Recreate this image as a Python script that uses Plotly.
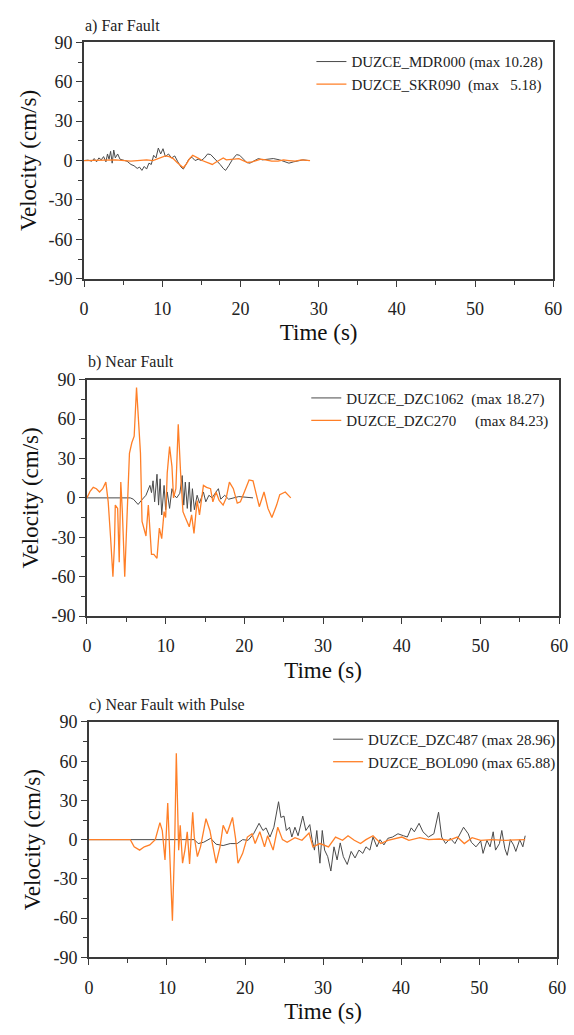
import plotly.graph_objects as go

# ---------------- data ----------------
# Panel a) Far Fault
t_mdr000 = [0, 0.5, 1.0, 1.3, 1.6, 1.9, 2.2, 2.5, 2.8, 3.0,
            3.2, 3.4, 3.6, 3.8, 4.0, 4.3, 4.6, 5.0, 5.5, 6.0,
            6.4, 6.8, 7.1, 7.4, 7.7, 8.0, 8.3, 8.6, 8.9, 9.2,
            9.5, 9.8, 10.1, 10.4, 10.8, 11.2, 11.6, 12.0, 12.4, 12.7,
            13.0, 13.4, 13.8, 14.2, 14.6, 15.0, 15.4, 15.8, 16.2, 16.6,
            17.0, 17.4, 17.8, 18.1, 18.5, 19.0, 19.5, 19.9, 20.4, 20.8,
            21.2, 21.7, 22.3, 22.8, 23.5, 24.2, 25.0, 25.6, 26.2, 26.8,
            27.4, 28.0, 28.7]
v_mdr000 = [0, 0.3, -0.5, 1.5, -1, 2, 0.5, 3, -1, 5,
            1, 7, -2, 8, 2, 5, 1, 0.5, -0.5, -3,
            -4, -6, -5, -7.5, -4.5, -6.5, -2, -3, 4, 2,
            9.5, 5, 9, 3, 5, 2, 3.5, -1, -5, -6.5,
            -3, 1, 2.5, 0, 1, 0, 2, 5, 4.5, 2,
            0, -3, -6, -7.5, -4, 1, 4.5, 4, 1, -1.5,
            -2, -0.5, 1.5, 0.5, 1, 1.5, 0.5, -1, -2, -1,
            0, 0.5, 0]
t_skr090 = [0, 2, 4, 6, 7, 8, 8.8, 9.3, 9.8, 10.4,
            10.9, 11.4, 11.9, 12.4, 12.7, 13.1, 13.5, 13.9, 14.3, 14.7,
            15.1, 15.5, 16.0, 16.4, 16.8, 17.3, 17.8, 18.2, 18.7, 19.2,
            19.8, 20.3, 20.9, 21.5, 22.0, 22.6, 23.2, 24.0, 24.8, 25.5,
            26.2, 27.0, 27.8, 28.9]
v_skr090 = [0, 0, 0.5, -0.5, 0, 0.5, 0, 1, 2, 3.5,
            3, 1.5, -1.5, -4, -5.5, -2.5, 1.5, 4, 3, 1.5,
            0, -1, -2, -3, -1.5, 0.5, 2, 0.5, 0.5, 1,
            1.5, 0, -1.5, -1, 0, 1, 0.5, -0.5, -0.5, 0.5,
            0, -0.5, 0.5, 0]

# Panel b) Near Fault
t_dzc1062 = [0, 5.5, 5.9, 6.5, 6.9, 7.5, 8.0, 8.2, 8.4, 8.6,
             8.9, 9.1, 9.3, 9.5, 9.8, 10.0, 10.2, 10.5, 10.8, 11.1,
             11.4, 11.8, 12.1, 12.3, 12.5, 12.75, 13.0, 13.2, 13.4, 13.65,
             14.0, 14.3, 14.8, 15.1, 15.5, 15.9, 16.4, 16.7, 17.0, 17.5,
             18.0, 18.7, 19.3, 21.1]
v_dzc1062 = [0, 0, -1, -5, -2, 2, 9.5, 4, 13, -3,
             18, -5.5, 14.5, -13, 9.5, -9, 4.5, -8, 7, 2,
             0, 3.5, 17, -5.5, 12, -8, 12, -10.5, 7, -9,
             2, -4, 4.5, -3, 2, 0, 4.5, 7, -1, 2,
             -1, 0, 1, 0]
t_dzc270 = [0, 0.4, 0.8, 1.2, 1.6, 2.0, 2.4, 2.7, 3.0, 3.3,
            3.5, 3.6, 3.9, 4.1, 4.3, 4.5, 4.8, 5.1, 5.4, 5.7,
            6.0, 6.3, 6.6, 6.8, 7.0, 7.5, 7.8, 8.2, 8.5, 8.9,
            9.2, 9.5, 9.8, 10.0, 10.2, 10.5, 10.8, 11.0, 11.3, 11.6,
            11.9, 12.2, 12.5, 13.0, 13.3, 13.6, 14.0, 14.3, 14.8, 15.2,
            15.7, 16.0, 16.4, 16.8, 17.3, 17.7, 18.1, 18.6, 19.1, 19.5,
            20.0, 20.6, 21.1, 21.6, 21.9, 22.5, 23.0, 23.5, 24.1, 24.5,
            25.2, 25.9]
v_dzc270 = [0, 5, 8, 7, 4.5, 7, 12, -3, -30, -60,
            -35, -5.5, -8, -49, 12, -10.5, -60, -10.5, 34, 42,
            47, 84, 49, 34, -18, -29, -5.5, -43, -43, -46,
            -23, -31, -10.5, -15, 19, 39, 24, 0, 7, 56,
            19, -10.5, -15, -22, -13, -27, -2, -13, 9.5, 8,
            7, -3, 4.5, -2, -5.5, 0, 12, 7, -4, -3,
            4.5, 13.7, 13, 2, -6.7, 4.5, -8, -15, -5.5, 2.5,
            4.5, 0]

# Panel c) Near Fault with Pulse
t_dzc487 = [0, 13.5, 14.0, 14.7, 15.6, 16.3, 17.2, 18.1, 19.0, 19.7,
            20.4, 21.1, 21.8, 22.3, 22.7, 23.2, 23.7, 24.3, 24.6, 25.0,
            25.3, 25.7, 26.0, 26.4, 26.8, 27.4, 27.8, 28.3, 28.6, 28.9,
            29.2, 29.6, 29.9, 30.2, 30.6, 31.0, 31.4, 31.8, 32.2, 32.6,
            33.1, 33.6, 34.1, 34.6, 35.1, 35.5, 36.0, 36.4, 36.9, 37.3,
            37.8, 38.3, 38.9, 39.6, 40.3, 40.8, 41.3, 41.7, 42.3, 42.8,
            43.5, 44.2, 44.8, 45.2, 45.7, 46.3, 46.9, 47.4, 48.0, 48.6,
            49.0, 49.6, 50.2, 50.5, 51.0, 51.4, 51.8, 52.1, 52.6, 52.9,
            53.3, 53.6, 54.0, 54.4, 54.7, 55.2, 55.6, 55.9]
v_dzc487 = [0, 0, -3, -2, 1, -3.5, -4.5, -3, -3, 0,
            -0.5, 4.5, 12.5, 7, 9, 2, 9.5, 29, 17, 18,
            7, 9.5, 2, 9.5, 3, 18, 7, 11.5, 0, -8,
            7, -18, 7, -8, -13, -24, -5.5, -15.5, -2.5, -13,
            -19, -9, -14, -8, -10.5, -5.5, -8, 2, -5.5, 0,
            -4, 1, 2, 4.5, 3, 2, 9, 6, 12.5, 6,
            2, 4.5, 21, 2, -3, 1, -3, 3, 9.5, 4.5,
            -2, -5.5, -1, -10.5, -0.5, -5.5, 6, -8, -3, 7,
            -7, -12, 0, -4, -9, 0, -5.5, 3]
t_bol090 = [0, 5.3, 5.8, 6.5, 7.1, 7.8, 8.5, 9.1, 9.4, 9.75,
            10.1, 10.4, 10.7, 11.0, 11.2, 11.5, 11.7, 12.0, 12.3, 12.6,
            12.9, 13.3, 13.5, 13.9, 14.3, 15.0, 15.5, 16.3, 16.8, 17.2,
            17.7, 18.4, 18.8, 19.1, 19.7, 20.3, 20.9, 21.3, 21.9, 22.5,
            22.9, 23.6, 24.2, 24.8, 25.4, 26.4, 27.3, 28.2, 28.7, 29.6,
            30.7, 31.6, 32.5, 33.2, 34.0, 34.8, 35.5, 36.4, 37.4, 38.3,
            39.2, 40.1, 41.0, 42.4, 43.5, 44.9, 46.1, 47.2, 48.1, 49.1,
            50.2, 51.6, 53.4, 55.9]
v_bol090 = [0, 0, -5.5, -8, -5.5, -4, 0, 13, 7, -15.5,
            28, -13, -62, 0, 66, -8, 11, -18, -8, 6,
            -18.5, 21, 2, -13, -5.5, 16, 7, -18, -5.5, 11,
            4.5, 17, 0.5, -18, -10.5, 2, 4.5, -3, 6, -5.5,
            3, -8, 9.5, 0, -2, 1.5, -0.5, 5, -5.5, -3,
            -5.5, 2, -0.5, 3, -0.5, -3, 0, 3, -3, -0.5,
            0.5, 2, -0.5, 1.5, 0, 0.5, -0.5, 2, -3, 1.5,
            -0.5, 0, -0.5, 0]

# Labels
panel_titles = ["a) Far Fault", "b) Near Fault", "c) Near Fault with Pulse"]
names_a = ["DUZCE_MDR000 (max 10.28)",
           "DUZCE_SKR090\u00a0\u00a0(max\u00a0\u00a0\u00a05.18)"]
names_b = ["DUZCE_DZC1062\u00a0\u00a0(max 18.27)",
           "DUZCE_DZC270\u00a0\u00a0\u00a0\u00a0\u00a0(max 84.23)"]
names_c = ["DUZCE_DZC487 (max 28.96)", "DUZCE_BOL090 (max 65.88)"]
x_tickvals = [0, 10, 20, 30, 40, 50, 60]
x_ticktext = ["0", "10", "20", "30", "40", "50", "60"]
y_tickvals = [-90, -60, -30, 0, 30, 60, 90]
y_ticktext = ["-90", "-60", "-30", "0", "30", "60", "90"]

# ---------------- styling ----------------
W, H = 574, 1035
SERIF = "Liberation Serif, Times New Roman, serif"
GRAY = "#4a4a4a"
ORANGE = "#ff7f27"
AXC = "#3a3a3a"

# panel geometry in pixels: (left, right, top, bottom)
geom = [(81, 562, 33, 274), (84, 568, 377, 618), (86, 566, 726, 966)]
title_pos = [(80, 16), (83, 359), (84, 709)]
legend_pos = [(557, 36), (563, 379), (570, 727)]

series = [
    (t_mdr000, v_mdr000, t_skr090, v_skr090, names_a),
    (t_dzc1062, v_dzc1062, t_dzc270, v_dzc270, names_b),
    (t_dzc487, v_dzc487, t_bol090, v_bol090, names_c),
]

fig = go.Figure()
layout = dict(
    width=W, height=H, margin=dict(l=0, r=0, t=0, b=0),
    paper_bgcolor="white", plot_bgcolor="white",
    font=dict(family=SERIF, color="#222222", size=16),
    showlegend=True, annotations=[],
)

for i, (tg, vg, to, vo, names) in enumerate(series):
    sfx = "" if i == 0 else str(i + 1)
    lg = "legend" + sfx
    fig.add_trace(go.Scatter(x=tg, y=vg, mode="lines", name=names[0],
                             line=dict(color=GRAY, width=1),
                             xaxis="x" + sfx, yaxis="y" + sfx, legend=lg))
    fig.add_trace(go.Scatter(x=to, y=vo, mode="lines", name=names[1],
                             line=dict(color=ORANGE, width=1.3),
                             xaxis="x" + sfx, yaxis="y" + sfx, legend=lg))
    l, r, t, b = geom[i]
    layout["xaxis" + sfx] = dict(
        domain=[l / W, r / W], anchor="y" + sfx, range=[0, 60],
        tickmode="array", tickvals=x_tickvals, ticktext=x_ticktext,
        ticks="outside", ticklen=6, tickwidth=1.3, tickcolor=AXC,
        minor=dict(dtick=5, ticks="outside", ticklen=4, tickwidth=1.2, tickcolor=AXC),
        showline=True, linecolor=AXC, linewidth=1.6, mirror=True,
        showgrid=False, zeroline=False, ticklabelstandoff=7,
        tickfont=dict(family=SERIF, size=18, color="#222222"),
        title=dict(text="Time (s)", font=dict(family=SERIF, size=23, color="#111111"),
                   standoff=6),
    )
    layout["yaxis" + sfx] = dict(
        domain=[1 - b / H, 1 - t / H], anchor="x" + sfx, range=[-90, 90],
        tickmode="array", tickvals=y_tickvals, ticktext=y_ticktext,
        ticks="outside", ticklen=6, tickwidth=1.3, tickcolor=AXC,
        minor=dict(dtick=15, ticks="outside", ticklen=4, tickwidth=1.2, tickcolor=AXC),
        showline=True, linecolor=AXC, linewidth=1.6, mirror=True,
        showgrid=False, zeroline=False,
        tickfont=dict(family=SERIF, size=18, color="#222222"),
        title=dict(text="Velocity (cm/s)", font=dict(family=SERIF, size=23, color="#111111"),
                   standoff=6),
    )
    lx, ly = legend_pos[i]
    layout[lg] = dict(x=lx / W, y=1 - ly / H, xanchor="right", yanchor="top",
                      xref="paper", yref="paper",
                      bgcolor="rgba(0,0,0,0)", borderwidth=0,
                      font=dict(family=SERIF, size=15, color="#222222"),
                      tracegroupgap=0, itemwidth=30)
    tx, ty = title_pos[i]
    layout["annotations"].append(dict(
        text=panel_titles[i], x=tx / W, y=1 - ty / H, xref="paper", yref="paper",
        xanchor="left", yanchor="middle", showarrow=False,
        font=dict(family=SERIF, size=16, color="#222222")))

fig.update_layout(**layout)
# remove the browser's default page margin so the figure sits at the window origin
fig.write_html("out.html", config={"displayModeBar": False},
               post_script="document.body.style.margin='0';")
